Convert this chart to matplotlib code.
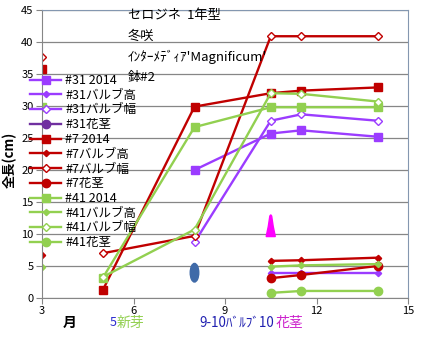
import numpy as np
import matplotlib
matplotlib.use("Agg")
import matplotlib.pyplot as plt
from matplotlib.patches import Ellipse, Polygon

plt.rcParams['font.family'] = ['Noto Sans CJK JP', 'DejaVu Sans']

nan = np.nan
months = [3, 4, 5, 8, 10.5, 11.5, 14]

s31_2014 = [nan, nan, nan, 20.0, 25.7, 26.2, 25.2]
s31_bulb_h = [nan, nan, nan, nan, 3.9, 3.9, 3.9]
s31_bulb_w = [nan, nan, nan, 8.7, 27.7, 28.7, 27.7]
s31_stem = [nan, nan, nan, nan, nan, nan, nan]
s7_2014 = [35.8, nan, 1.3, 29.9, 32.0, 32.4, 32.9]
s7_bulb_h = [6.7, nan, nan, nan, 5.8, 5.9, 6.3]
s7_bulb_w = [37.7, nan, 7.0, 9.7, 40.9, 40.9, 40.9]
s7_stem = [nan, nan, nan, nan, 3.1, 3.6, 5.0]
s41_2014 = [29.9, nan, 3.2, 26.7, 29.8, 29.8, 29.8]
s41_bulb_h = [4.9, nan, nan, nan, 4.9, 5.1, 5.3]
s41_bulb_w = [nan, nan, 3.3, 10.7, 32.0, 31.9, 30.7]
s41_stem = [nan, nan, nan, nan, 0.8, 1.1, 1.1]

labels = ['#31 2014', '#31バルブ高', '#31バルブ幅', '#31花茎',
          '#7 2014', '#7バルブ高', '#7バルブ幅', '#7花茎',
          '#41 2014', '#41バルブ高', '#41バルブ幅', '#41花茎']
series = [s31_2014, s31_bulb_h, s31_bulb_w, s31_stem,
          s7_2014, s7_bulb_h, s7_bulb_w, s7_stem,
          s41_2014, s41_bulb_h, s41_bulb_w, s41_stem]

PURPLE = '#9B3CFF'
DPURPLE = '#7030A0'
RED = '#C00000'
GREEN = '#92D050'
colors = [PURPLE, PURPLE, PURPLE, DPURPLE,
          RED, RED, RED, RED,
          GREEN, GREEN, GREEN, GREEN]
markers = ['s', 'D', 'D', 'o'] * 3
msizes = [5.5, 3.2, 4, 6] * 3
open_face = [False, False, True, False] * 3

W, H = 428, 341
fig = plt.figure(figsize=(W / 100, H / 100), dpi=100)

def fx(px):
    return px / W

def fy(py):
    return 1 - py / H

ax = fig.add_axes([fx(42), fy(298), fx(408) - fx(42), fy(10) - fy(298)])

for vals, lab, c, m, ms, of in zip(series, labels, colors, markers, msizes, open_face):
    ax.plot(months, vals, color=c, lw=1.7, marker=m, markersize=ms,
            markerfacecolor='white' if of else c, markeredgecolor=c,
            markeredgewidth=1.0, label=lab)

# new shoot / bulb / flower stalk event markers
bud_pos = (8, 3.95)
ax.add_patch(Ellipse(bud_pos, 0.28, 2.9, color='#3F6AA8', zorder=5))
stem_x, stem_base, stem_top = 10.5, 9.6, 13.0
ax.add_patch(Polygon([(stem_x - 0.15, stem_base), (stem_x + 0.15, stem_base),
                      (stem_x + 0.08, stem_base + 1.6), (stem_x + 0.03, stem_top - 0.2),
                      (stem_x, stem_top), (stem_x - 0.03, stem_top - 0.2),
                      (stem_x - 0.08, stem_base + 1.6)],
                     closed=True, color='#FF00FF', zorder=5))

ax.set_xlim(3, 15)
ax.set_ylim(0, 45)
ax.set_xticks([3, 6, 9, 12, 15])
ax.set_yticks(np.arange(0, 46, 5))
ax.yaxis.grid(True, color='#868686', lw=0.9)
ax.set_axisbelow(True)
ax.tick_params(axis='both', labelsize=8, direction='out', length=4,
               color='#868686', pad=2)
for side in ['left', 'bottom']:
    ax.spines[side].set_color('#868686')
for side in ['top', 'right']:
    ax.spines[side].set_color('#8497B0')

fig.text(fx(10), fy(160), '全長(cm)', rotation=90, fontsize=9.5,
         fontweight='bold', ha='center', va='center')

leg = ax.legend(loc='upper left', bbox_to_anchor=(fx(30), fy(74)),
                bbox_transform=fig.transFigure, frameon=False, fontsize=9,
                handlelength=2.5, handletextpad=0.3, labelspacing=0.14,
                borderpad=0, borderaxespad=0)

tx = fx(128)
for py, s in [(16, 'セロジネ  1年型'), (36, '冬咲'),
              (57, "ｲﾝﾀｰﾒﾃﾞｨｱ'Magnificum'"), (77, '鉢#2')]:
    fig.text(tx, fy(py), s, fontsize=9.5, ha='left', va='center')

fig.text(fx(70), fy(323), '月', fontsize=10, fontweight='bold', ha='center', va='center')
fig.text(fx(110), fy(323), '5', fontsize=9, color='#2B2BD0', ha='left', va='center')
fig.text(fx(117), fy(323), '新芽', fontsize=10, color=GREEN, ha='left', va='center')
fig.text(fx(199), fy(323), '9-10ﾊﾞﾙﾌﾞ10', fontsize=9.6, color='#1F1FB0', ha='left', va='center')
fig.text(fx(276), fy(323), '花茎', fontsize=10, color='#CC22CC', ha='left', va='center')

fig.savefig('out.png', dpi=100)
